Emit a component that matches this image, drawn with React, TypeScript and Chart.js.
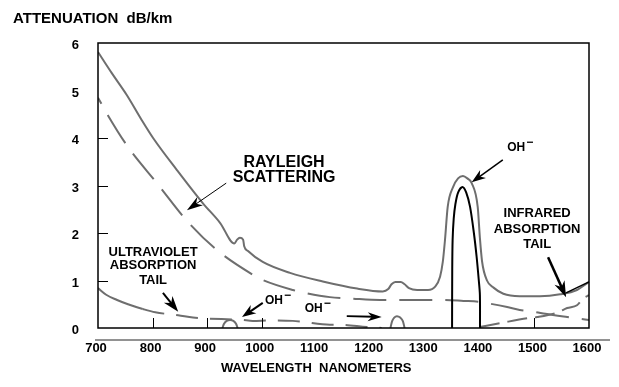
import React, { useEffect, useRef } from "react";
import { Chart, registerables } from "chart.js";

Chart.register(...registerables);

// ---- Data (wavelength nm, attenuation dB/km) ----
const xTickLabels = [700, 800, 900, 1000, 1100, 1200, 1300, 1400, 1500, 1600];
const yTickLabels = [0, 1, 2, 3, 4, 5, 6];
const xInnerTicks = [800, 900, 1000, 1500];
const yInnerTicks = [1, 2, 3, 4];

const totalWl = [700, 725, 753, 780, 801, 845, 892, 924, 950, 955, 960, 966, 968, 975, 1002, 1052, 1112, 1175, 1222, 1232, 1238, 1245, 1255, 1262, 1270, 1285, 1305, 1318, 1327, 1332, 1336, 1341, 1351, 1360, 1369, 1377, 1385, 1396, 1400, 1404, 1413, 1425, 1443, 1473, 1510, 1547, 1578, 1600];
const totalDb = [5.81, 5.37, 4.9, 4.38, 4.0, 3.32, 2.63, 2.21, 1.78, 1.86, 1.9, 1.86, 1.72, 1.62, 1.39, 1.16, 0.98, 0.83, 0.77, 0.82, 0.92, 0.97, 0.97, 0.92, 0.84, 0.8, 0.8, 0.87, 1.08, 1.39, 1.85, 2.55, 2.97, 3.15, 3.2, 3.15, 3.05, 2.55, 1.9, 1.4, 1.0, 0.85, 0.72, 0.67, 0.67, 0.71, 0.8, 0.97];

const rayleighWl = [700, 718, 755, 808, 865, 918, 984, 1002, 1057, 1079, 1125, 1165, 1217, 1300, 1330, 1370, 1400, 1415, 1450, 1473, 1500, 1520, 1560, 1578, 1600];
const rayleighDb = [4.85, 4.48, 3.81, 3.05, 2.23, 1.64, 1.12, 1.01, 0.8, 0.74, 0.65, 0.62, 0.59, 0.59, 0.59, 0.57, 0.55, 0.52, 0.44, 0.38, 0.34, 0.3, 0.23, 0.2, 0.17];

const uvWl = [700, 715, 735, 755, 782, 805, 847, 874, 900, 946, 964, 984, 1015, 1057, 1075, 1125, 1143, 1193, 1220];
const uvDb = [0.84, 0.7, 0.59, 0.5, 0.4, 0.33, 0.27, 0.22, 0.2, 0.18, 0.17, 0.15, 0.16, 0.15, 0.13, 0.07, 0.07, 0.02, 0.0];

const irWl = [1400, 1437, 1450, 1490, 1505, 1541, 1560, 1578, 1590, 1600];
const irDb = [0.02, 0.1, 0.13, 0.21, 0.23, 0.32, 0.42, 0.48, 0.63, 0.69];

const ohPeakWl = [1349, 1349.3, 1350, 1352, 1355, 1360, 1368, 1375, 1382, 1389, 1394, 1398, 1400, 1400.2];
const ohPeakDb = [0, 1.2, 1.85, 2.3, 2.6, 2.85, 2.97, 2.85, 2.55, 2.0, 1.5, 1.0, 0.7, 0];

const oh950Wl = [928, 931, 936, 942, 948, 953, 956];
const oh950Db = [0, 0.09, 0.15, 0.17, 0.15, 0.09, 0];

const oh1250Wl = [1236, 1239, 1243, 1248, 1254, 1259, 1262];
const oh1250Db = [0, 0.14, 0.22, 0.25, 0.22, 0.14, 0];

const GRAY = "rgb(110,110,110)";
const FONT = "'Liberation Sans', Arial, sans-serif";
const NARROW = "'Liberation Sans Narrow', 'Arial Narrow', 'Liberation Sans', sans-serif";

const pts = (xs: number[], ys: number[]) => xs.map((x, i) => ({ x, y: ys[i] }));

const annotationPlugin = {
  id: "annotations",
  afterDraw(chart: any) {
    const { ctx, chartArea: a, scales } = chart;
    const X = (v: number) => scales.x.getPixelForValue(v);
    const Y = (v: number) => scales.y.getPixelForValue(v);
    ctx.save();

    // frame
    ctx.strokeStyle = "#000";
    ctx.lineWidth = 1.5;
    ctx.strokeRect(a.left, a.top, a.right - a.left, a.bottom - a.top);

    // inner ticks
    ctx.lineWidth = 1;
    ctx.beginPath();
    yInnerTicks.forEach((v) => {
      const py = Math.round(Y(v)) + 0.5;
      ctx.moveTo(a.left, py);
      ctx.lineTo(a.left + 10, py);
    });
    xInnerTicks.forEach((v) => {
      const px = Math.round(X(v)) + 0.5;
      ctx.moveTo(px, a.bottom);
      ctx.lineTo(px, a.bottom - 10);
    });
    ctx.stroke();

    // separator line above x labels
    ctx.strokeStyle = GRAY;
    ctx.lineWidth = 1.5;
    ctx.beginPath();
    ctx.moveTo(a.left - 3, a.bottom + 12);
    ctx.lineTo(a.right + 21, a.bottom + 12);
    ctx.stroke();

    ctx.fillStyle = "#000";
    ctx.textBaseline = "middle";

    // titles
    ctx.font = `bold 15px ${FONT}`;
    ctx.textAlign = "left";
    ctx.fillText("ATTENUATION  dB/km", a.left - 85, a.top - 24.5);
    ctx.font = `bold 13px ${FONT}`;
    ctx.textAlign = "center";
    ctx.fillText("WAVELENGTH  NANOMETERS", X(1100), a.bottom + 40);

    const text = (s: string, wl: number, db: number, size: number, align = "center") => {
      ctx.font = `bold ${size}px ${FONT}`;
      ctx.textAlign = align;
      ctx.fillText(s, X(wl), Y(db));
    };
    const ohLabel = (wl: number, db: number) => {
      ctx.font = `bold 12px ${NARROW}`;
      ctx.textAlign = "left";
      const x0 = X(wl);
      const y0 = Y(db);
      ctx.fillText("OH", x0, y0);
      const w = ctx.measureText("OH").width;
      ctx.font = `bold 12px ${FONT}`;
      ctx.fillText("\u2212", x0 + w + 1, y0 - 5);
    };
    const arrow = (w1: number, d1: number, w2: number, d2: number, len = 13, half = 4.5, lw = 1.3) => {
      const x1 = X(w1), y1 = Y(d1), x2 = X(w2), y2 = Y(d2);
      const ang = Math.atan2(y2 - y1, x2 - x1);
      ctx.strokeStyle = "#000";
      ctx.lineWidth = lw;
      ctx.beginPath();
      ctx.moveTo(x1, y1);
      ctx.lineTo(x2 - Math.cos(ang) * len * 0.6, y2 - Math.sin(ang) * len * 0.6);
      ctx.stroke();
      const bx = x2 - Math.cos(ang) * len;
      const by = y2 - Math.sin(ang) * len;
      const nx = -Math.sin(ang) * half;
      const ny = Math.cos(ang) * half;
      const mx = x2 - Math.cos(ang) * len * 0.7;
      const my = y2 - Math.sin(ang) * len * 0.7;
      ctx.fillStyle = "#000";
      ctx.beginPath();
      ctx.moveTo(x2, y2);
      ctx.lineTo(bx + nx, by + ny);
      ctx.lineTo(mx, my);
      ctx.lineTo(bx - nx, by - ny);
      ctx.closePath();
      ctx.fill();
    };

    // Rayleigh
    text("RAYLEIGH", 1041, 3.48, 16);
    text("SCATTERING", 1041, 3.16, 16);
    arrow(935, 3.05, 863, 2.48, 16, 5, 1);

    // OH peak label
    ohLabel(1450, 3.79);
    arrow(1442, 3.54, 1385, 3.07, 14, 5, 1.5);

    // UV
    text("ULTRAVIOLET", 801, 1.59, 13);
    text("ABSORPTION", 801, 1.31, 13);
    text("TAIL", 801, 1.01, 13);
    arrow(819, 0.74, 847, 0.34, 16, 5.5, 2);

    // OH near 1000
    ohLabel(1006, 0.57);
    arrow(1002, 0.53, 964, 0.23, 14, 5, 2);

    // OH near 1150
    ohLabel(1079, 0.4);
    arrow(1156, 0.25, 1220, 0.23, 14, 4.5, 2);

    // Infrared
    text("INFRARED", 1505, 2.42, 13);
    text("ABSORPTION", 1505, 2.08, 13);
    text("TAIL", 1505, 1.75, 13);
    arrow(1525, 1.49, 1558, 0.65, 16, 5.5, 2.5);
    ctx.strokeStyle = "#000";
    ctx.lineWidth = 1.5;
    ctx.beginPath();
    ctx.moveTo(X(1558), Y(0.74));
    ctx.lineTo(X(1600), Y(0.97));
    ctx.stroke();

    ctx.restore();
  },
};

export default function App() {
  const ref = useRef<HTMLCanvasElement>(null);
  useEffect(() => {
    if (!ref.current) return;
    const base = {
      pointRadius: 0,
      fill: false,
      cubicInterpolationMode: "monotone",
      borderColor: GRAY,
      borderWidth: 2,
    };
    const chart = new Chart(ref.current, {
      type: "line",
      data: {
        datasets: [
          { ...base, label: "OH peak", data: pts(ohPeakWl, ohPeakDb), borderColor: "#000", borderWidth: 2, cubicInterpolationMode: "default", tension: 0.3 },
          { ...base, label: "Total", data: pts(totalWl, totalDb) },
          { ...base, label: "Rayleigh", data: pts(rayleighWl, rayleighDb), borderDash: [33, 13], borderDashOffset: 26 },
          {
            ...base,
            label: "UV",
            data: pts(uvWl, uvDb),
            segment: { borderDash: (c: any) => (c.p0.parsed.x >= 782 ? [22, 12] : undefined) },
          },
          { ...base, label: "IR", data: pts(irWl, irDb), borderDash: [20, 8] },
          { ...base, label: "OH950", data: pts(oh950Wl, oh950Db) },
          { ...base, label: "OH1250", data: pts(oh1250Wl, oh1250Db) },
        ],
      } as any,
      options: {
        responsive: false,
        animation: false,
        layout: { padding: { top: 43, right: 30, left: 0, bottom: 0 } },
        plugins: { legend: { display: false }, tooltip: { enabled: false }, title: { display: false } },
        scales: {
          x: {
            type: "linear",
            min: 700,
            max: 1600,
            afterBuildTicks: (s: any) => {
              s.ticks = xTickLabels.map((v) => ({ value: v }));
            },
            afterFit: (s: any) => {
              s.height = 59;
            },
            grid: { display: false, drawTicks: false },
            border: { display: false },
            ticks: {
              padding: 13,
              labelOffset: -2,
              color: "#000",
              maxRotation: 0,
              autoSkip: false,
              callback: (v: any) => String(v),
              font: { family: NARROW, size: 13, weight: "bold" },
            },
          },
          y: {
            min: 0,
            max: 6,
            afterBuildTicks: (s: any) => {
              s.ticks = yTickLabels.map((v) => ({ value: v }));
            },
            afterFit: (s: any) => {
              s.width = 98;
            },
            grid: { display: false, drawTicks: false },
            border: { display: false },
            ticks: {
              padding: 19,
              labelOffset: 2.5,
              color: "#000",
              callback: (v: any) => String(v),
              font: { family: NARROW, size: 13, weight: "bold" },
            },
          },
        },
      } as any,
      plugins: [annotationPlugin],
    });
    return () => chart.destroy();
  }, []);
  return (
    <div style={{ position: "fixed", left: 0, top: 0, width: 619, height: 387, background: "#fff" }}>
      <canvas ref={ref} width={619} height={387} style={{ display: "block" }} />
    </div>
  );
}
